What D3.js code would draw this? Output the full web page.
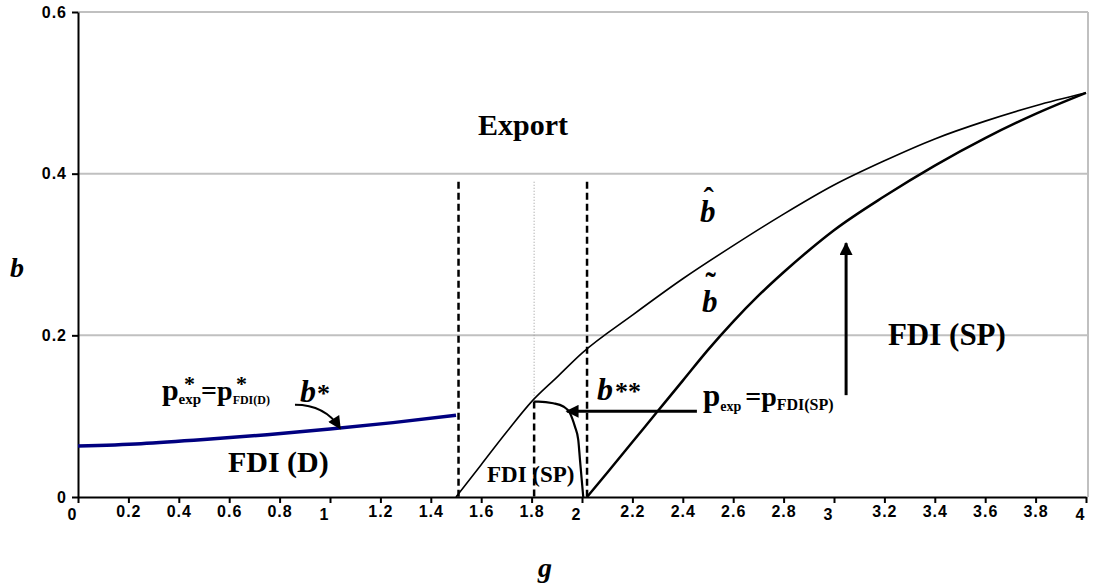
<!DOCTYPE html>
<html>
<head>
<meta charset="utf-8">
<script src="https://cdn.jsdelivr.net/npm/d3@7"></script>
<style>
  body { margin: 0; background: #fff; }
  .axis text { font-family: Arial, "Liberation Sans", sans-serif; font-weight: bold; fill: #000; }
  .axis line, .axis path { stroke: #000; stroke-width: 2px; }
  .lbl { font-family: "Times New Roman", "Liberation Serif", serif; font-weight: bold; fill: #000; }
</style>
</head>
<body>
<div id="chart"></div>
<script>
var margin = {top: 12, right: 7, bottom: 88, left: 78},
  width = 1093 - margin.left - margin.right,
  height = 585 - margin.top - margin.bottom;

// b* (blue), FDI(D) / export boundary
var gStar = [0, 0.25, 0.5, 0.75, 1.0, 1.25, 1.5];
var bStar = [0.063, 0.066, 0.071, 0.077, 0.084, 0.092, 0.101];

// b-hat
var gHat = [1.5, 1.6, 1.7, 1.8, 1.9, 2.0, 2.2, 2.4, 2.6, 2.8, 3.0, 3.2, 3.4, 3.6, 3.8, 4.0];
var bHat = [0, 0.040, 0.080, 0.118, 0.148, 0.178, 0.225, 0.270, 0.311, 0.350, 0.386, 0.416, 0.443, 0.465, 0.484, 0.500];

// b-tilde
var gTilde = [2.02, 2.1, 2.2, 2.3, 2.4, 2.5, 2.6, 2.7, 2.8, 2.9, 3.0, 3.2, 3.4, 3.6, 3.8, 4.0];
var bTilde = [0, 0.030, 0.068, 0.106, 0.144, 0.182, 0.217, 0.249, 0.278, 0.305, 0.330, 0.372, 0.410, 0.444, 0.474, 0.500];

// b**
var gSS = [1.81, 1.827, 1.886, 1.926, 1.952, 1.972, 1.985, 1.992, 1.999, 2.005];
var bSS = [0.118, 0.118, 0.116, 0.112, 0.104, 0.087, 0.071, 0.046, 0.021, 0];

var vLines = [1.51, 1.81, 2.02];
var vLineTop = 0.39;

var xTicks = d3.range(0, 21).map(function(i) { return i / 5; });
var yTicks = [0, 0.2, 0.4, 0.6];

var x = d3.scaleLinear().domain([0, 4]).range([0, width]);
var y = d3.scaleLinear().domain([0, 0.6]).range([height, 0]);

var svg = d3.select("#chart").append("svg")
  .attr("width", 1093)
  .attr("height", 585);

var defs = svg.append("defs");
defs.append("marker")
  .attr("id", "head")
  .attr("markerUnits", "userSpaceOnUse")
  .attr("viewBox", "0 0 10 10")
  .attr("refX", 9).attr("refY", 5)
  .attr("markerWidth", 16).attr("markerHeight", 13)
  .attr("orient", "auto")
  .append("path")
    .attr("d", "M0,0L10,5L0,10Z")
    .attr("fill", "#000");

var g = svg.append("g")
  .attr("transform", "translate(" + margin.left + "," + margin.top + ")");

// grid + frame
g.selectAll(".grid")
  .data(yTicks.slice(1))
  .enter().append("line")
    .attr("class", "grid")
    .attr("x1", 0).attr("x2", width + 2)
    .attr("y1", function(d) { return y(d); })
    .attr("y2", function(d) { return y(d); })
    .attr("stroke", "#c0c0c0")
    .attr("stroke-width", 2);

g.append("line")
  .attr("x1", width + 2).attr("x2", width + 2)
  .attr("y1", y(0.6)).attr("y2", y(0))
  .attr("stroke", "#c0c0c0")
  .attr("stroke-width", 2);

// axes
var fmt = d3.format("");
var xAxis = g.append("g")
  .attr("class", "axis")
  .attr("transform", "translate(0," + height + ")")
  .call(d3.axisBottom(x).tickValues(xTicks).tickSize(6).tickSizeOuter(0)
    .tickFormat(function(d) { return fmt(+d.toFixed(1)); }));

xAxis.selectAll(".tick text")
  .style("font-size", "16px")
  .style("letter-spacing", "1px")
  .filter(function(d) { return Math.abs(d - Math.round(d)) < 1e-9; })
  .attr("dx", -6)
  .attr("y", 12);

var yAxis = g.append("g")
  .attr("class", "axis")
  .call(d3.axisLeft(y).tickValues(yTicks).tickSize(6).tickSizeOuter(0).tickPadding(5)
    .tickFormat(function(d) { return fmt(+d.toFixed(1)); }));

yAxis.selectAll(".tick text")
  .style("font-size", "16px")
  .style("letter-spacing", "1px");

svg.append("text")
  .attr("class", "lbl")
  .attr("x", 17).attr("y", 277)
  .attr("text-anchor", "middle")
  .style("font-style", "italic")
  .style("font-size", "28px")
  .text("b");

svg.append("text")
  .attr("class", "lbl")
  .attr("x", 545).attr("y", 577)
  .attr("text-anchor", "middle")
  .style("font-style", "italic")
  .style("font-size", "28px")
  .text("g");

// vertical dashed lines
vLines.forEach(function(v, i) {
  if (i === 1) {
    g.append("line")
      .attr("x1", x(v)).attr("x2", x(v))
      .attr("y1", y(vLineTop)).attr("y2", y(bSS[0]))
      .attr("stroke", "#999")
      .attr("stroke-width", 1)
      .attr("stroke-dasharray", "1,2");
    g.append("line")
      .attr("x1", x(v)).attr("x2", x(v))
      .attr("y1", y(bSS[0])).attr("y2", y(0))
      .attr("stroke", "#000")
      .attr("stroke-width", 2.5)
      .attr("stroke-dasharray", "7,4");
  } else {
    g.append("line")
      .attr("x1", x(v)).attr("x2", x(v))
      .attr("y1", y(vLineTop)).attr("y2", y(0))
      .attr("stroke", "#000")
      .attr("stroke-width", 2.5)
      .attr("stroke-dasharray", "7,4");
  }
});

var line = d3.line()
  .x(function(d) { return x(d[0]); })
  .y(function(d) { return y(d[1]); })
  .curve(d3.curveMonotoneX);

g.append("path")
  .datum(d3.zip(gStar, bStar))
  .attr("d", line)
  .attr("fill", "none")
  .attr("stroke", "#000080")
  .attr("stroke-width", 3.5);

g.append("path")
  .datum(d3.zip(gHat, bHat))
  .attr("d", line)
  .attr("fill", "none")
  .attr("stroke", "#000")
  .attr("stroke-width", 1.6);

g.append("path")
  .datum(d3.zip(gTilde, bTilde))
  .attr("d", line)
  .attr("fill", "none")
  .attr("stroke", "#000")
  .attr("stroke-width", 2.5);

g.append("path")
  .datum(d3.zip(gSS, bSS))
  .attr("d", line)
  .attr("fill", "none")
  .attr("stroke", "#000")
  .attr("stroke-width", 2.2);

// arrows
g.append("line")
  .attr("x1", x(2.456)).attr("y1", y(0.106))
  .attr("x2", x(1.94)).attr("y2", y(0.106))
  .attr("stroke", "#000").attr("stroke-width", 3)
  .attr("marker-end", "url(#head)");

g.append("line")
  .attr("x1", x(3.048)).attr("y1", y(0.126))
  .attr("x2", x(3.048)).attr("y2", y(0.314))
  .attr("stroke", "#000").attr("stroke-width", 3)
  .attr("marker-end", "url(#head)");

g.append("path")
  .attr("d", "M" + x(0.861) + "," + y(0.114) +
    "Q" + x(0.98) + "," + y(0.114) + " " + x(1.04) + "," + y(0.085))
  .attr("fill", "none")
  .attr("stroke", "#000").attr("stroke-width", 2)
  .attr("marker-end", "url(#head)");

// labels
function label(gv, bv, txt, size, italic, anchor) {
  return g.append("text")
    .attr("class", "lbl")
    .attr("x", x(gv)).attr("y", y(bv))
    .attr("text-anchor", anchor || "start")
    .style("font-size", size + "px")
    .style("font-style", italic ? "italic" : "normal")
    .text(txt);
}

label(1.766, 0.448, "Export", 30, false, "middle");
label(0.595, 0.031, "FDI (D)", 30, false);
label(3.214, 0.188, "FDI (SP)", 31, false);
label(1.623, 0.019, "FDI (SP)", 23, false);

var bh = label(2.468, 0.340, "b", 31, true);
bh.append("tspan").attr("dx", -12).attr("dy", -13).style("font-style", "normal").text("\u02C6");
var bt = label(2.476, 0.229, "b", 31, true);
bt.append("tspan").attr("dx", -12).attr("dy", -18).style("font-style", "normal").text("\u02DC");

var bss = label(2.06, 0.12, "b", 32, true);
bss.append("tspan").attr("dx", 2).style("font-size", "26px").style("font-style", "normal").text("**");

var bst = label(0.881, 0.1176, "b", 32, true);
bst.append("tspan").attr("dx", 1).style("font-size", "26px").style("font-style", "normal").text("*");

var pSP = label(2.48, 0.113, "p", 31, false);
pSP.append("tspan").attr("dy", 5).style("font-size", "14px").text("exp");
pSP.append("tspan").attr("dy", -5).attr("dx", 4).style("font-size", "28px").text("=p");
pSP.append("tspan").attr("dy", 4).style("font-size", "16px").text("FDI(SP)");

var pD = label(0.333, 0.12, "p", 30, false);
pD.append("tspan").attr("dy", 4).style("font-size", "15px").text("exp");
pD.append("tspan").attr("dx", -17).attr("dy", -13).style("font-size", "22px").text("*");
pD.append("tspan").attr("dx", 6).attr("dy", 9).style("font-size", "28px").text("=p");
pD.append("tspan").attr("dy", 4).style("font-size", "12px").text("FDI(D)");
pD.append("tspan").attr("dx", -34).attr("dy", -13).style("font-size", "22px").text("*");
</script>
</body>
</html>
